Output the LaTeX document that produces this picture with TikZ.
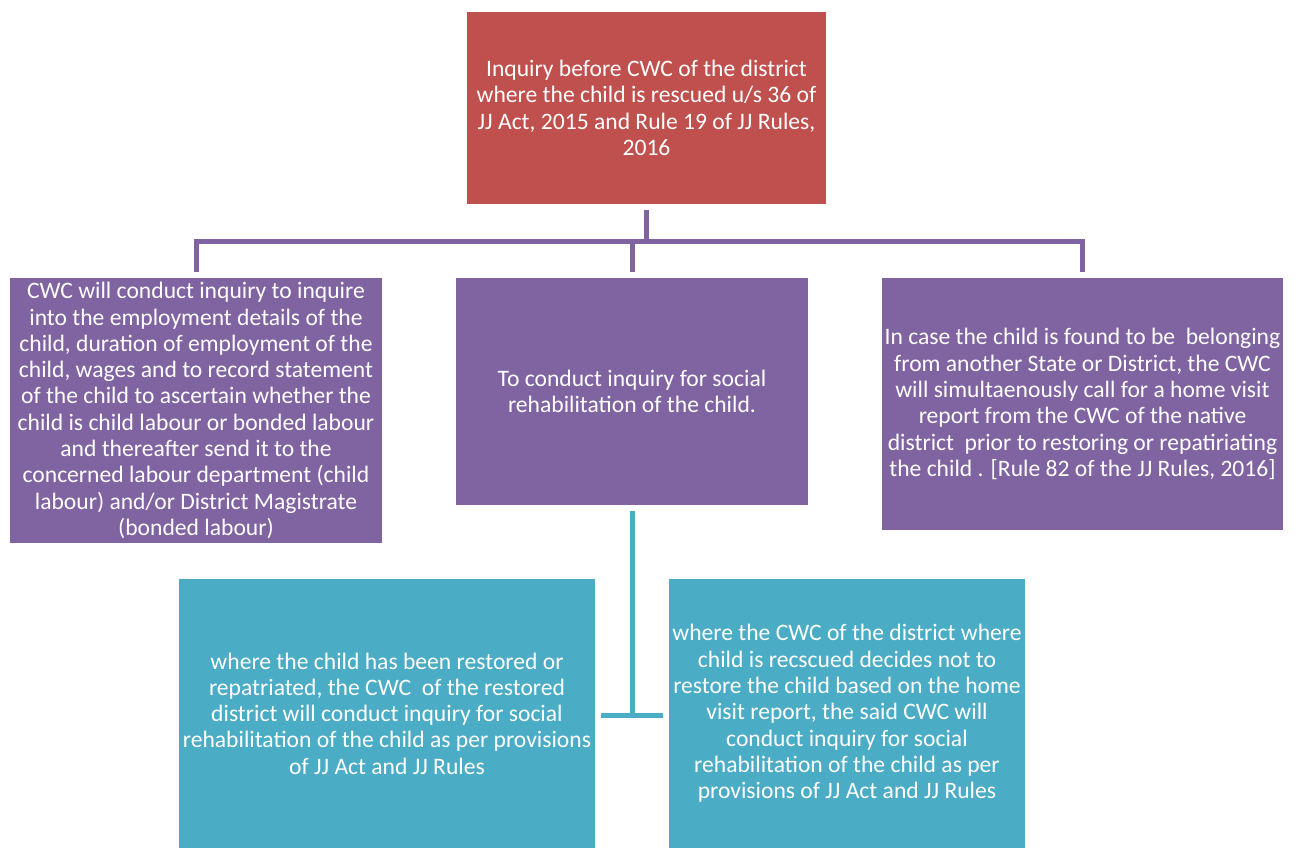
\documentclass[tikz,border=0pt]{standalone}
\usepackage{fontspec}
\setmainfont{Carlito}
\definecolor{cwcred}{HTML}{C0504D}
\definecolor{cwcpurple}{HTML}{8064A2}
\definecolor{cwcteal}{HTML}{4BACC6}
\begin{document}
\begin{tikzpicture}[x=1pt,y=-1pt,
  box/.style={rectangle, inner sep=0pt, align=center, text=white,
    font=\fontsize{23.6}{26.3}\selectfont},
  bus/.style={line width=5pt, line cap=butt}]
\useasboundingbox (0,0) rectangle (1301,848);

\node[box,fill=cwcred,minimum width=359,minimum height=192] (inq) at (646.5,108) {Inquiry before CWC of the district\\where the child is rescued u/s 36 of\\JJ Act, 2015 and Rule 19 of JJ Rules,\\2016};

\node[box,fill=cwcpurple,minimum width=372,minimum height=265] (lab) at (196,410.5) {CWC will conduct inquiry to inquire\\into the employment details of the\\child, duration of employment of the\\child, wages and to record statement\\of the child to ascertain whether the\\child is child labour or bonded labour\\and thereafter send it to the\\concerned labour department (child\\labour) and/or District Magistrate\\(bonded labour)};
\node[box,fill=cwcpurple,minimum width=352,minimum height=227] (soc) at (632,391.5) {To conduct inquiry for social\\rehabilitation of the child.};
\node[box,fill=cwcpurple,minimum width=401,minimum height=252] (hvr) at (1082.5,404) {In case the child is found to be\ \ belonging\\from another State or District, the CWC\\will simultaenously call for a home visit\\report from the CWC of the native\\district\ \ prior to restoring or repatiriating\\the child . [Rule 82 of the JJ Rules, 2016]};

\node[box,fill=cwcteal,minimum width=416,minimum height=269] (rest) at (387,713.5) {where the child has been restored or\\repatriated, the CWC\ \ of the restored\\district will conduct inquiry for social\\rehabilitation of the child as per provisions\\of JJ Act and JJ Rules};
\node[box,fill=cwcteal,minimum width=356,minimum height=269] (norest) at (847,713.5) {where the CWC of the district where\\child is recscued decides not to\\restore the child based on the home\\visit report, the said CWC will\\conduct inquiry for social\\rehabilitation of the child as per\\provisions of JJ Act and JJ Rules};

% purple bus
\coordinate (bus) at (0,241);
\path[draw,bus,cwcpurple] ([yshift=-6pt]inq.south) -- (inq.south |- bus);
\path[draw,bus,cwcpurple] ([xshift=-2.5pt]lab.north |- bus) -- ([xshift=2.5pt]hvr.north |- bus);
\path[draw,bus,cwcpurple] (lab.north |- bus) -- ([yshift=6pt]lab.north);
\path[draw,bus,cwcpurple] (soc.north |- bus) -- ([yshift=6pt]soc.north);
\path[draw,bus,cwcpurple] (hvr.north |- bus) -- ([yshift=6pt]hvr.north);

% teal tee
\coordinate (tee) at (0,715);
\path[draw,bus,cwcteal] ([yshift=-6pt]soc.south) -- (soc.south |- tee);
\path[draw,bus,cwcteal] ([xshift=6pt]rest.east |- tee) -- ([xshift=-6pt]norest.west |- tee);
\end{tikzpicture}
\end{document}
